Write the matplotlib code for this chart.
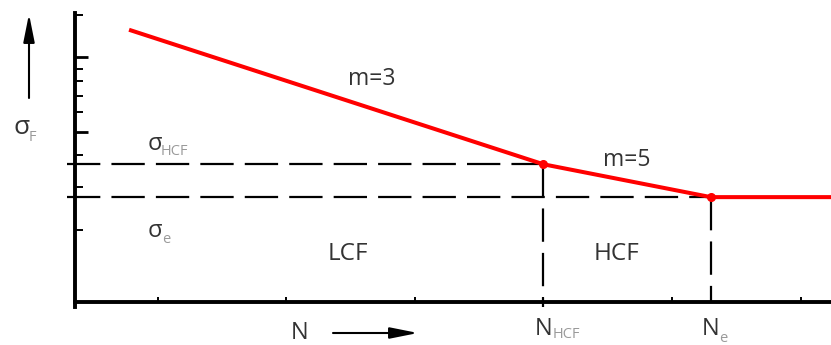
import matplotlib.pyplot as plt

plt.rcParams['font.family'] = ['Open Sans', 'DejaVu Sans']

# S-N curve on log-log axes: start, HCF knee, endurance knee, end
N_curve = [6, 1e4, 2e5, 1.72e6]
sigma_curve = [2000, 180, 100, 100]
N_HCF, sigma_HCF = 1e4, 180
N_e, sigma_e = 2e5, 100

N_lim = (2.28, 1.72e6)
sigma_lim = (15.3, 2700)
N_ticks = [1e1, 1e2, 1e3, 1e4, 1e5, 1e6]
sigma_major = [1230, 320]
sigma_minor = [2600, 990, 800, 610, 460, 212, 120, 56]

txt = '#333333'
sub = '#9a9a9a'
red = '#ff0000'

fig = plt.figure(figsize=(8.31, 3.45), dpi=100)
ax = fig.add_axes([75 / 831, 43 / 345, 756 / 831, 289 / 345])
ax.set_xscale('log')
ax.set_yscale('log')
ax.set_xlim(N_lim)
ax.set_ylim(sigma_lim)

for s in ['top', 'right']:
    ax.spines[s].set_visible(False)
for s in ['left', 'bottom']:
    ax.spines[s].set_linewidth(2.8)
    ax.spines[s].set_color('black')
ax.spines['left'].set_bounds(sigma_lim[0] * 0.91, sigma_lim[1])

ax.set_xticks(N_ticks)
ax.xaxis.set_minor_locator(plt.NullLocator())
ax.set_yticks(sigma_major)
ax.set_yticks(sigma_minor, minor=True)
ax.tick_params(axis='x', which='both', direction='in', length=3.8, width=1.4,
               labelbottom=False)
ax.tick_params(axis='y', which='major', direction='in', length=9.5, width=2.0)
ax.tick_params(axis='y', which='minor', direction='in', length=6, width=1.4)
ax.tick_params(axis='y', which='both', labelleft=False)

# dashed guide lines to the knees
dash = dict(color='black', lw=1.6, dashes=(15, 5), clip_on=False, zorder=2)
ax.plot([N_lim[0] * 0.87, N_HCF], [sigma_HCF, sigma_HCF], **dash)
ax.plot([N_lim[0] * 0.87, N_e], [sigma_e, sigma_e], **dash)
ax.plot([N_HCF, N_HCF], [sigma_HCF, sigma_lim[0] * 0.91], **dash)
ax.plot([N_e, N_e], [sigma_e, sigma_lim[0]], **dash)

ax.plot(N_curve, sigma_curve, color=red, lw=2.9, zorder=3, solid_capstyle='butt')
ax.plot([N_HCF, N_e], [sigma_HCF, sigma_e], 'o', color=red, ms=5.5, zorder=4)

# labels inside the plot
ax.text(464, 827, 'm=3', fontsize=16.5, color=txt, ha='center', va='center')
ax.text(44700, 194, 'm=5', fontsize=16.5, color=txt, ha='center', va='center')
ax.text(302, 36, 'LCF', fontsize=17.5, color=txt, ha='center', va='center')
ax.text(37300, 36, 'HCF', fontsize=17.5, color=txt, ha='center', va='center')


def sublabel(x, y, main, low, dx, dy, size, transform, ha='left', subsize=10.5):
    ax.text(x, y, main, fontsize=size, color=txt, ha=ha, va='baseline',
            transform=transform, clip_on=False)
    ax.annotate(low, xy=(x, y), xycoords=transform, xytext=(dx, dy),
                textcoords='offset points', fontsize=subsize, color=sub,
                ha='left', va='baseline', annotation_clip=False)


sublabel(8.3, 232, 'σ', 'HCF', 10, -3.5, 17, ax.transData)
sublabel(8.4, 49, 'σ', 'e', 10.5, -4, 17, ax.transData)
sublabel(13 / 831, 1 - 134 / 345, 'σ', 'F', 11.5, -5, 19, fig.transFigure)

xa = ax.get_xaxis_transform()
sublabel(N_HCF, -0.113, 'N', 'HCF', 6.5, -2.5, 17, xa, ha='center')
sublabel(N_e, -0.113, 'N', 'e', 6, -5, 17, xa, ha='center')
ax.text(300 / 831, 1 - 339 / 345, 'N', fontsize=17, color=txt, ha='center',
        va='baseline', transform=fig.transFigure)

# direction arrows for the axes
arrow = dict(arrowstyle='-|>,head_length=0.85,head_width=0.17', color='black',
             lw=1.5, shrinkA=0, shrinkB=0, mutation_scale=20)
fig.add_artist(plt.matplotlib.patches.FancyArrowPatch(
    (333 / 831, 1 - 333 / 345), (418 / 831, 1 - 333 / 345),
    transform=fig.transFigure, **arrow))
fig.add_artist(plt.matplotlib.patches.FancyArrowPatch(
    (29 / 831, 1 - 98 / 345), (29 / 831, 1 - 14 / 345),
    transform=fig.transFigure, **arrow))

fig.savefig('out.png', dpi=100)
